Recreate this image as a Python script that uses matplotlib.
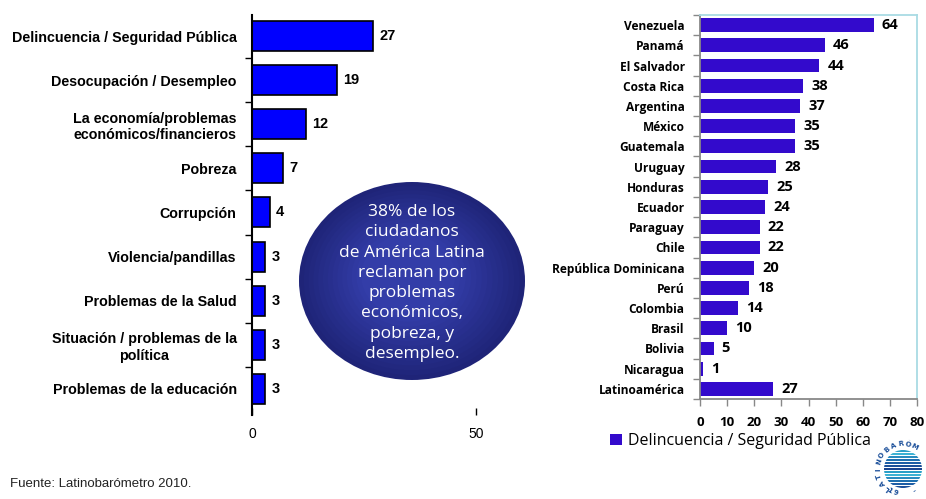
import numpy as np
import matplotlib
matplotlib.use("Agg")
import matplotlib.pyplot as plt
from matplotlib.patches import Ellipse, Rectangle, Circle

# datos
temas = ["Delincuencia / Seguridad Pública", "Desocupación / Desempleo",
         "La economía/problemas\neconómicos/financieros", "Pobreza", "Corrupción",
         "Violencia/pandillas", "Problemas de la Salud",
         "Situación / problemas de la\npolítica", "Problemas de la educación"]
temas_val = [27, 19, 12, 7, 4, 3, 3, 3, 3]

paises = ["Venezuela", "Panamá", "El Salvador", "Costa Rica", "Argentina", "México",
          "Guatemala", "Uruguay", "Honduras", "Ecuador", "Paraguay", "Chile",
          "República Dominicana", "Perú", "Colombia", "Brasil", "Bolivia",
          "Nicaragua", "Latinoamérica"]
paises_val = [64, 46, 44, 38, 37, 35, 35, 28, 25, 24, 22, 22, 20, 18, 14, 10, 5, 1, 27]

leyenda = "Delincuencia / Seguridad Pública"
circulo_txt = ("38% de los\nciudadanos\nde América Latina\nreclaman por\nproblemas\n"
               "económicos,\npobreza, y\ndesempleo.")
fuente = "Fuente: Latinobarómetro 2010."

W, H = 926, 499
fig = plt.figure(figsize=(W / 100, H / 100), dpi=100)

def px_axes(x0, y0, x1, y1):
    return fig.add_axes([x0 / W, 1 - y1 / H, (x1 - x0) / W, (y1 - y0) / H])

# ---- grafico izquierdo
ax1 = px_axes(252, 15, 476, 415)
y1 = np.arange(len(temas))
ax1.barh(y1, temas_val, height=0.68, color="#0000FF", edgecolor="black", linewidth=1.2)
ax1.set_xlim(0, 50)
ax1.set_ylim(8.59, -0.476)
ax1.set_xticks([0, 50])
ax1.tick_params(axis="x", direction="in", length=5, width=1, pad=9,
                labelsize=10, labelfontfamily="Liberation Sans")
ax1.set_yticks(y1)
ax1.set_yticklabels(temas, fontfamily="Liberation Sans", fontweight="bold", fontsize=10.3)
ax1.tick_params(axis="y", length=0, pad=11)
ax1.set_yticks(y1[:-1] + 0.5, minor=True)
ax1.tick_params(axis="y", which="minor", length=5, width=1, color="black")
for lab in ax1.get_yticklabels():
    lab.set_horizontalalignment("right")
    lab.set_multialignment("center")
for s in ["top", "right", "bottom"]:
    ax1.spines[s].set_visible(False)
ax1.spines["left"].set_linewidth(1.5)
for yi, v in zip(y1, temas_val):
    ax1.text(v + 1.4, yi, str(v), va="center", ha="left", fontsize=10.5,
             fontweight="bold", fontfamily="Liberation Sans")

# ---- grafico derecho
ax2 = px_axes(700, 15, 917, 399)
y2 = np.arange(len(paises))
ax2.barh(y2, paises_val, height=0.68, color="#330ACC", label=leyenda)
ax2.set_xlim(0, 80)
ax2.set_ylim(18.5, -0.5)
ax2.set_xticks(np.arange(0, 81, 10))
ax2.tick_params(axis="x", direction="out", length=5, width=1, color="#888888", pad=7,
                labelsize=9.5)
for lab in ax2.get_xticklabels():
    lab.set_fontfamily("Open Sans")
    lab.set_fontweight("bold")
ax2.set_yticks(y2)
ax2.set_yticklabels(paises, fontfamily="Open Sans", fontweight="bold", fontsize=8.6)
ax2.tick_params(axis="y", length=0, pad=11)
ax2.set_yticks(np.arange(-0.5, 18.6, 1), minor=True)
ax2.tick_params(axis="y", which="minor", length=5, width=1, color="#888888")
ax2.spines["top"].set_color("#a9dbe4")
ax2.spines["right"].set_color("#a9dbe4")
ax2.spines["left"].set_color("#888888")
ax2.spines["bottom"].set_color("#888888")
for s in ax2.spines.values():
    s.set_linewidth(1.3)
for yi, v in zip(y2, paises_val):
    ax2.text(v + 3, yi, str(v), va="center", ha="left", fontsize=10.5,
             fontweight="bold", fontfamily="Open Sans")
fig.legend(*ax2.get_legend_handles_labels(), loc="center left",
           bbox_to_anchor=(610 / W, 1 - 441 / H), frameon=False,
           prop={"family": "Open Sans", "size": 11.5}, handlelength=0.75,
           handleheight=0.75, handletextpad=0.35, borderpad=0, borderaxespad=0)

# ---- capa de anotaciones en pixeles
ov = fig.add_axes([0, 0, 1, 1], zorder=10)
ov.set_xlim(0, W)
ov.set_ylim(H, 0)
ov.axis("off")

cx, cy, ew, eh = 410, 279, 226, 198
for k, c in enumerate(np.linspace(0, 1, 14)):
    f = 1 - k * 0.045
    col = np.array([0.12, 0.14, 0.47]) * (1 - c) + np.array([0.2, 0.24, 0.66]) * c
    ov.add_patch(Ellipse((cx + 2 - k * 0.3, cy + 2 - k * 0.4), ew * f, eh * f,
                         facecolor=col, edgecolor="none"))
ov.text(cx + 2, cy + 4, circulo_txt, ha="center", va="center", color="white",
        fontsize=12.5, fontfamily="Open Sans", linespacing=1.36)

ov.text(10, 484, fuente, ha="left", va="center", fontsize=9.5,
        fontfamily="Liberation Sans", color="#222222")

# logo (recortado en el borde, como en el original)
lx, ly, rt = 903, 469, 25
clip = Circle((lx, ly), 19, transform=ov.transData)
stripe_cols = ["#2a9fc7", "#3cb3d4", "#2a8cc0", "#1f6fb0", "#1d5ea6", "#1b4f9a", "#1a4490"]
for i, yy in enumerate(np.arange(ly - 19, ly + 20, 3.0)):
    r = Rectangle((lx - 20, yy), 40, 2.0, facecolor=stripe_cols[i % len(stripe_cols)],
                  edgecolor="none")
    ov.add_patch(r)
    r.set_clip_path(clip)
for i, ch in enumerate("LATINOBARÓMETRO"):
    a = np.deg2rad(232 - i * 17)
    tx, ty = lx + rt * np.cos(a), ly - rt * np.sin(a)
    if tx < W - 6 and ty < H - 6:
        ov.text(tx, ty, ch, rotation=np.rad2deg(a) - 90, ha="center", va="center",
                fontsize=5, fontweight="bold", color="#1b4f9a", fontfamily="DejaVu Sans")
for i, ch in enumerate("1995-2010"):
    a = np.deg2rad(-122 + i * 15)
    tx, ty = lx + rt * np.cos(a), ly - rt * np.sin(a)
    if tx < W - 6 and ty < H - 6:
        ov.text(tx, ty, ch, rotation=np.rad2deg(a) + 90, ha="center", va="center",
                fontsize=5, fontweight="bold", color="#1b4f9a", fontfamily="DejaVu Sans")

fig.savefig("out.png", dpi=100)
